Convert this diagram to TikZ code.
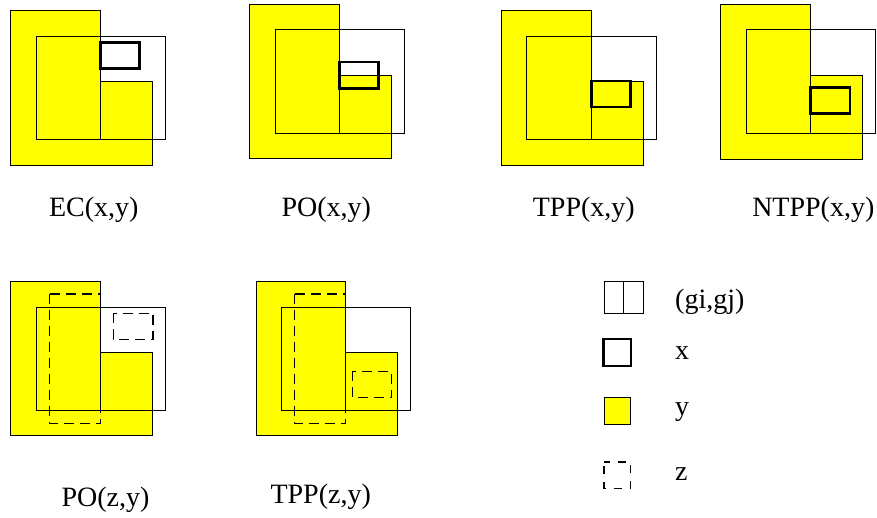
\documentclass[tikz,border=0pt]{standalone}
\usepackage{fontspec}
\setmainfont{Liberation Serif}
\definecolor{pureyellow}{RGB}{255,255,0}
\begin{document}
\begin{tikzpicture}[x=1pt,y=-1pt,
  yfill/.style={fill=pureyellow, draw=black, line width=0.9pt},
  thinbox/.style={draw=black, line width=0.9pt},
  xbox/.style={draw=black, line width=2.6pt},
  zbox/.style={draw=black, line width=1.5pt, dash pattern=on 10pt off 6pt},
  lab/.style={font=\fontsize{28}{34}\selectfont, inner sep=0pt, anchor=base},
  leg/.style={font=\fontsize{28}{34}\selectfont, inner sep=0pt, anchor=base west}]
\useasboundingbox (0,0) rectangle (877,517);
% Panel 1: EC(x,y)
\draw[yfill] (10.7,10.7) -- (100.7,10.7) -- (100.7,81) -- (152.3,81) -- (152.3,165) -- (10.7,165) -- cycle;
\draw[thinbox] (36,36) rectangle (165.7,139.3);
\draw[thinbox] (100.7,36) -- (100.7,139.3);
\draw[xbox] (100.7,42.7) rectangle (139.3,68.3);
\node[lab] (l1) at (93.8,216.7) {EC(x,y)};
% Panel 2: PO(x,y)
\draw[yfill] (249.3,4) -- (339.3,4) -- (339.3,75) -- (391.7,75) -- (391.7,158.3) -- (249.3,158.3) -- cycle;
\draw[thinbox] (275,29.3) rectangle (404.3,133.3);
\draw[thinbox] (339.3,29.3) -- (339.3,133.3);
\draw[xbox] (339.3,62) rectangle (378.7,88.3);
\node[lab] (l2) at (326.3,216.7) {PO(x,y)};
% Panel 3: TPP(x,y)
\draw[yfill] (501,10.7) -- (591.3,10.7) -- (591.3,81) -- (643,81) -- (643,165) -- (501,165) -- cycle;
\draw[thinbox] (526.7,36) rectangle (656,139.3);
\draw[thinbox] (591.3,36) -- (591.3,139.3);
\draw[xbox] (591.3,81) rectangle (630.3,107);
\node[lab] (l3) at (583.8,216.7) {TPP(x,y)};
% Panel 4: NTPP(x,y)
\draw[yfill] (720.7,4) -- (810.7,4) -- (810.7,75) -- (862.3,75) -- (862.3,159) -- (720.7,159) -- cycle;
\draw[thinbox] (746,29.3) rectangle (875.7,133);
\draw[thinbox] (810.7,29.3) -- (810.7,133);
\draw[xbox] (810.7,87.7) rectangle (850,113.7);
\node[lab] (l4) at (813.3,216.7) {NTPP(x,y)};
% Panel 5: PO(z,y)
\draw[yfill] (10.7,281.3) -- (100.7,281.3) -- (100.7,352) -- (152.3,352) -- (152.3,435.7) -- (10.7,435.7) -- cycle;
\draw[thinbox] (36,307.3) rectangle (165.7,410.3);
\draw[thinbox] (100.7,307.3) -- (100.7,410.3);
\draw[zbox] (49.3,294) rectangle (100.7,423.7);
\draw[zbox] (113.3,313.3) rectangle (153,339.3);
\node[lab] (l5) at (105.5,506) {PO(z,y)};
% Panel 6: TPP(z,y)
\draw[yfill] (256,281.3) -- (345.7,281.3) -- (345.7,352) -- (397.7,352) -- (397.7,435.7) -- (256,435.7) -- cycle;
\draw[thinbox] (281,307.3) rectangle (410.7,410.3);
\draw[thinbox] (345.7,307.3) -- (345.7,410.3);
\draw[zbox] (294.3,294) rectangle (345.7,423.7);
\draw[zbox] (352.3,371.3) rectangle (391.7,397.7);
\node[lab] (l6) at (320.7,503.3) {TPP(z,y)};
% Legend
\draw[thinbox] (604,281.7) rectangle (643.3,313.7);
\draw[thinbox] (623.7,281.7) -- (623.7,313.7);
\node[leg] (g1) at (675,308.3) {(gi,gj)};
\draw[xbox] (603.7,339) rectangle (631,366);
\node[leg] (g2) at (675,359.3) {x};
\draw[yfill] (604,397) rectangle (630.7,424);
\node[leg] (g3) at (675,415) {y};
\draw[zbox, line width=1.1pt, dash pattern=on 8pt off 8pt, dash phase=-4pt] (604,462) rectangle (630.7,488.3);
\node[leg] (g4) at (675,480) {z};
\end{tikzpicture}
\end{document}
